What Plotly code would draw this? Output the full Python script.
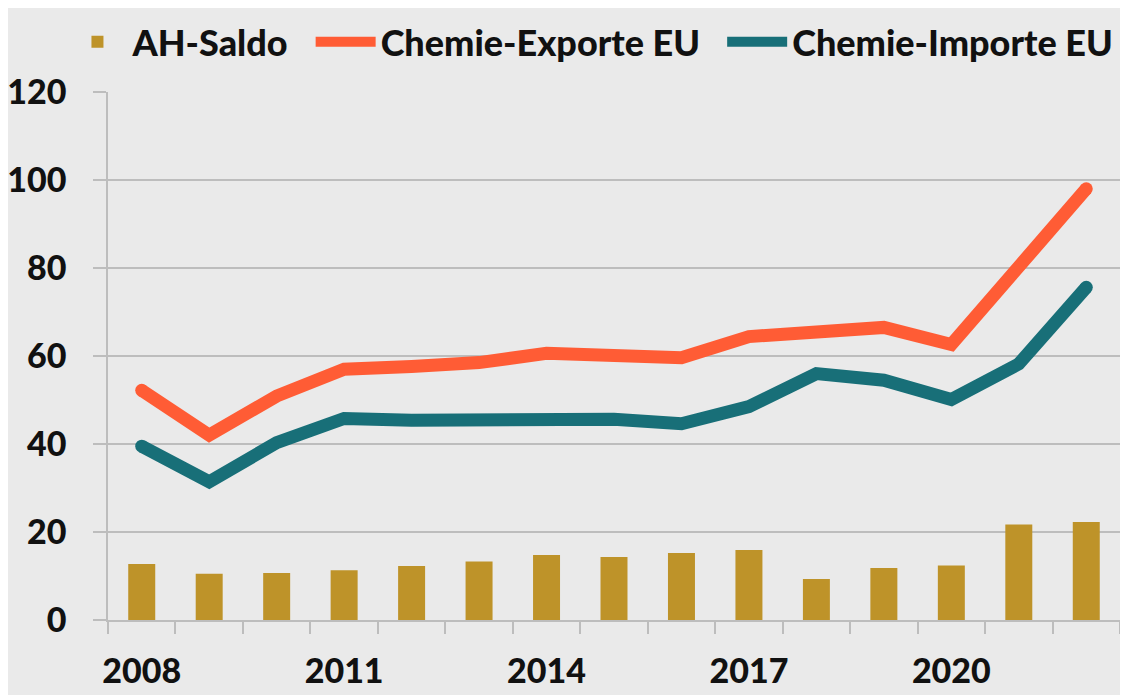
import plotly.graph_objects as go

years = list(range(2008, 2023))
ah_saldo = [12.7, 10.5, 10.7, 11.3, 12.3, 13.3, 14.8, 14.3, 15.2, 15.9, 9.3, 11.8, 12.4, 21.7, 22.3]
exporte = [52.2, 42.0, 50.9, 57.0, 57.6, 58.5, 60.6, 60.2, 59.6, 64.4, 65.8, 66.5, 62.6, 80.5, 98.0]
importe = [39.5, 31.4, 40.3, 45.8, 45.4, 45.3, 45.7, 45.6, 44.6, 48.5, 56.0, 54.5, 50.1, 58.2, 75.6]
x_ticks = [2008, 2011, 2014, 2017, 2020]
y_ticks = [0, 20, 40, 60, 80, 100, 120]

GOLD = "#BE9329"
ORANGE = "#FF5C35"
TEAL = "#186F78"
BG = "#EAEAEA"
GRID = "#BDBDBD"
FONT = "Lato"
INK = "#111111"
PAD = "\u00a0\u00a0"  # extra spacing between legend entries

fig = go.Figure()
fig.add_trace(go.Bar(x=years, y=ah_saldo, name="AH-Saldo" + PAD, marker_color=GOLD,
                     marker_line_width=0, width=0.4))
for name, vals, col in [("Chemie-Exporte EU" + PAD, exporte, ORANGE), ("Chemie-Importe EU", importe, TEAL)]:
    fig.add_trace(go.Scatter(x=years, y=vals, name=name, mode="lines",
                             line=dict(color=col, width=13)))
    # round line caps at both ends
    fig.add_trace(go.Scatter(x=[years[0], years[-1]], y=[vals[0], vals[-1]], mode="markers",
                             marker=dict(size=13, color=col, line_width=0),
                             showlegend=False, hoverinfo="skip"))

tick_font = dict(family=FONT, size=34, weight=900, color=INK)

fig.update_layout(
    width=1120, height=687,
    margin=dict(l=100, r=8, t=84, b=75, autoexpand=False),
    paper_bgcolor=BG, plot_bgcolor=BG,
    font=dict(family=FONT, size=34, color=INK),
    showlegend=True,
    legend=dict(orientation="h", x=-0.045, xanchor="left", y=1.095, yanchor="middle",
                font=dict(family=FONT, size=36, color=INK, weight=900),
                bgcolor="rgba(0,0,0,0)", itemwidth=60, traceorder="normal"),
    xaxis=dict(range=[2007.5, 2022.5], tickvals=x_ticks, ticks="", showgrid=False,
               tickfont=tick_font,
               showline=True, linecolor=GRID, linewidth=1.5, zeroline=False,
               ticklabelstandoff=20,
               minor=dict(ticks="outside", tick0=2007.5, dtick=1, ticklen=12,
                          tickcolor=GRID, tickwidth=1.5, showgrid=False)),
    yaxis=dict(range=[0, 120], tickvals=y_ticks, showgrid=True, gridcolor=GRID, gridwidth=1.5,
               ticks="outside", ticklen=13, tickcolor=GRID, tickwidth=1.5,
               tickfont=tick_font,
               showline=True, linecolor=GRID, linewidth=1.5, zeroline=False,
               ticklabelstandoff=20),
    bargap=0.6,
)

fig.write_html("out.html")
